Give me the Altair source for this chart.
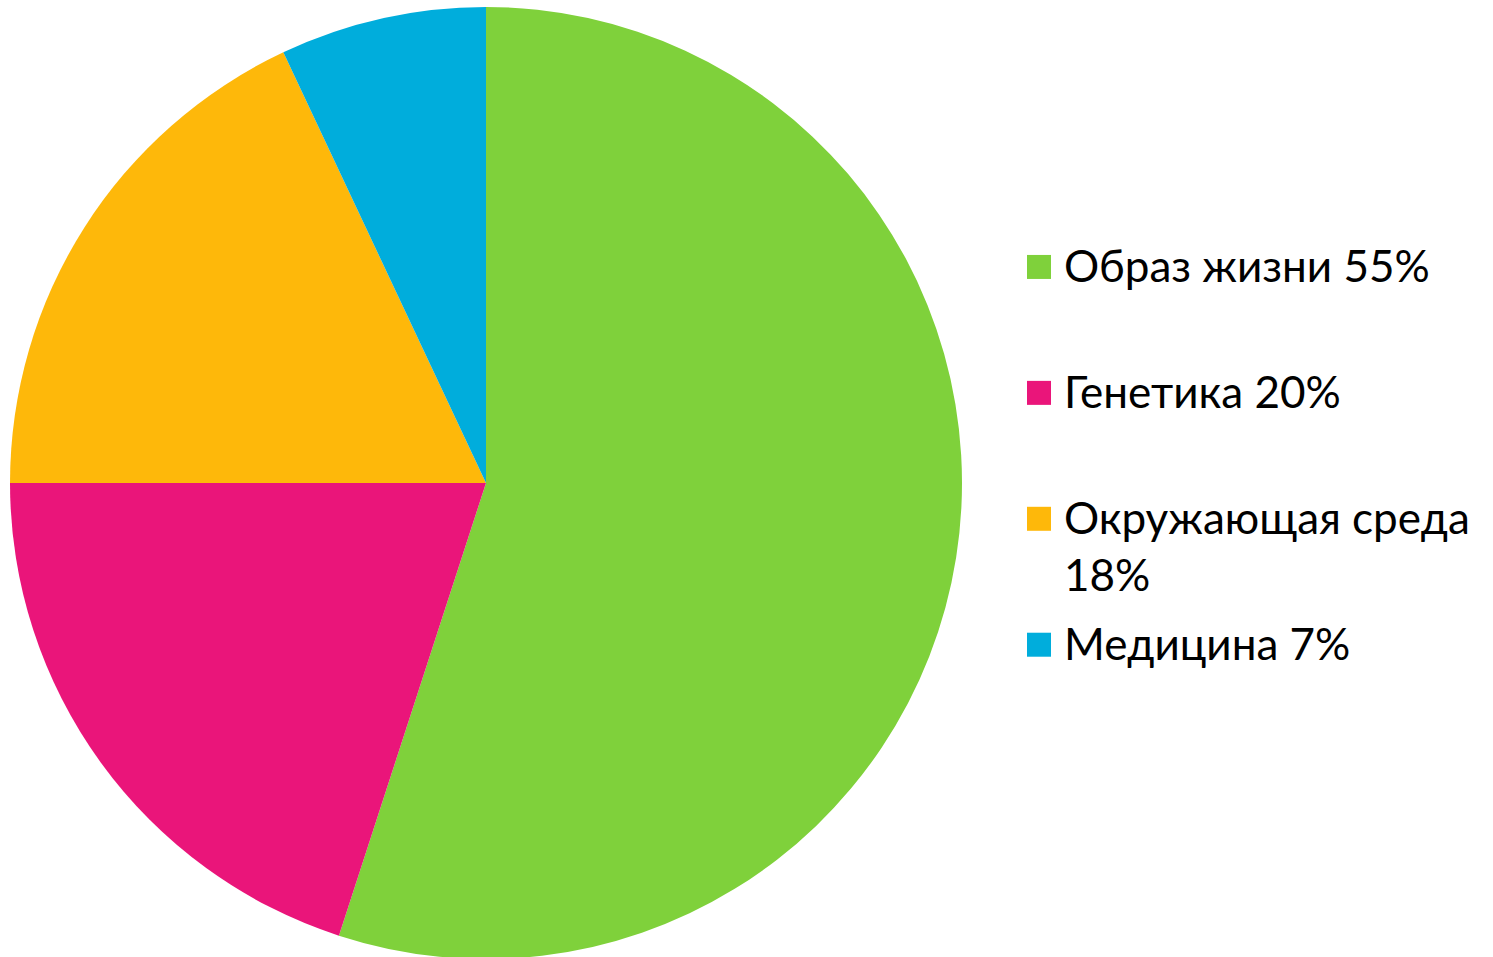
import altair as alt
import pandas as pd

categories = ["Образ жизни", "Генетика", "Окружающая среда", "Медицина"]
values = [55, 20, 18, 7]
legend_labels = ["Образ жизни 55%", "Генетика 20%", "Окружающая среда\n18%", "Медицина 7%"]
colors = ["#7FD13B", "#EA157A", "#FEB80A", "#00ADDC"]

df = pd.DataFrame({
    "category": categories,
    "value": values,
    "label": legend_labels,
    "row": list(range(len(categories))),
})

color_scale = alt.Scale(domain=categories, range=colors)

pie = alt.Chart(df).mark_arc(radius=476).encode(
    theta=alt.Theta("value:Q", stack=True),
    color=alt.Color("category:N", scale=color_scale, legend=None),
    order=alt.Order("row:Q"),
    x=alt.value(486),
    y=alt.value(483),
).properties(width=972, height=957)

yenc = alt.Y("row:Q", scale=alt.Scale(domain=[-2.12, 5.48], reverse=True, nice=False, zero=False), axis=None)

squares = alt.Chart(df).mark_square(size=576, opacity=1).encode(
    x=alt.value(67),
    y=yenc,
    color=alt.Color("category:N", scale=color_scale, legend=None),
)

texts = alt.Chart(df).mark_text(
    align="left", baseline="alphabetic", dy=15, fontSize=44, font="Lato",
    lineBreak="\n", lineHeight=57, color="#000000",
).encode(
    x=alt.value(92),
    y=yenc,
    text="label:N",
)

legend = alt.layer(squares, texts).properties(width=521, height=957)

chart = alt.hconcat(pie, legend, spacing=0).properties(padding=0).configure_view(stroke=None)

chart.save("out.html", embed_options={"renderer": "svg", "actions": False})
